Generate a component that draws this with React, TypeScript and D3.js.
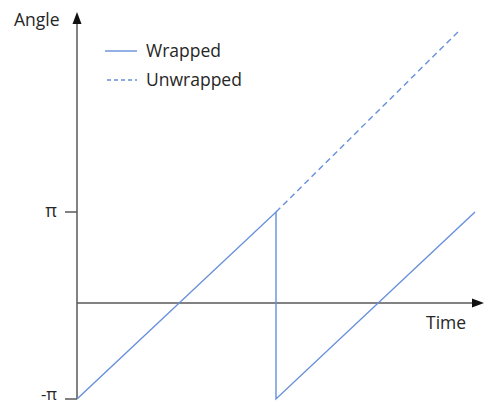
import React from "react";
import * as d3 from "d3";

const PI = Math.PI;
// Time values (in periods) and angles (radians)
const wrappedTime = [0, 1, 1, 2];
const wrappedAngle = [-PI, PI, -PI, PI];
const unwrappedTime = [1, 1.924];
const unwrappedAngle = [PI, 2.946 * PI];
const yTickValues = [PI, -PI];
const yTickLabels = ["π", "-π"];
const legendLabels = ["Wrapped", "Unwrapped"];

const W = 484;
const H = 405;
const LINE = "#6690da";
const AXIS = "#595959";
const TEXT = "#262626";
const FONT = "'Open Sans', 'Liberation Sans', sans-serif";

export default function App() {
  const x = d3.scaleLinear().domain([0, 2]).range([77, 475]);
  const y = d3.scaleLinear().domain([-PI, PI]).range([399, 212]);
  const axisX = 77;
  const axisY = 303;

  const line = d3
    .line<[number, number]>()
    .x((d) => x(d[0]))
    .y((d) => y(d[1]));

  const wrapped: [number, number][] = wrappedTime.map((t, i) => [t, wrappedAngle[i]]);
  const unwrapped: [number, number][] = unwrappedTime.map((t, i) => [t, unwrappedAngle[i]]);

  return (
    <svg
      width={W}
      height={H}
      style={{ position: "absolute", left: 0, top: 0, background: "#fff" }}
      fontFamily={FONT}
    >
      {/* y axis */}
      <line x1={axisX} x2={axisX} y1={y(-PI)} y2={22} stroke={AXIS} strokeWidth={1.5} />
      <path d={`M${axisX},12 L${axisX - 4.5},24 L${axisX + 4.5},24 Z`} fill="#111" />
      {/* x axis */}
      <line x1={axisX} x2={474} y1={axisY} y2={axisY} stroke={AXIS} strokeWidth={1.5} />
      <path d={`M484,${axisY} L472,${axisY - 4.5} L472,${axisY + 4.5} Z`} fill="#111" />

      {/* y ticks */}
      {yTickValues.map((v, i) => (
        <g key={i}>
          <line x1={65} x2={axisX} y1={y(v)} y2={y(v)} stroke={AXIS} strokeWidth={1.5} />
          <text
            x={57}
            y={y(v) - (i === 1 ? 4 : 1)}
            dy="0.32em"
            textAnchor="end"
            fontSize={i === 1 ? 16.5 : 18}
            fill={TEXT}
          >
            {yTickLabels[i]}
          </text>
        </g>
      ))}

      {/* axis titles */}
      <text x={14} y={26} fontSize={17.5} fill={TEXT}>
        Angle
      </text>
      <text x={426} y={329} fontSize={17.5} fill={TEXT}>
        Time
      </text>

      {/* data lines */}
      <path d={line(unwrapped) || ""} fill="none" stroke={LINE} strokeWidth={1.4} strokeDasharray="6,4" />
      <path d={line(wrapped) || ""} fill="none" stroke={LINE} strokeWidth={1.4} />

      {/* legend */}
      <line x1={105} x2={137} y1={51} y2={51} stroke={LINE} strokeWidth={1.4} />
      <text x={146} y={57} fontSize={17.5} fill={TEXT}>
        {legendLabels[0]}
      </text>
      <line x1={107} x2={137} y1={80} y2={80} stroke={LINE} strokeWidth={1.4} strokeDasharray="4,3" />
      <text x={146} y={86} fontSize={17.5} fill={TEXT}>
        {legendLabels[1]}
      </text>
    </svg>
  );
}
